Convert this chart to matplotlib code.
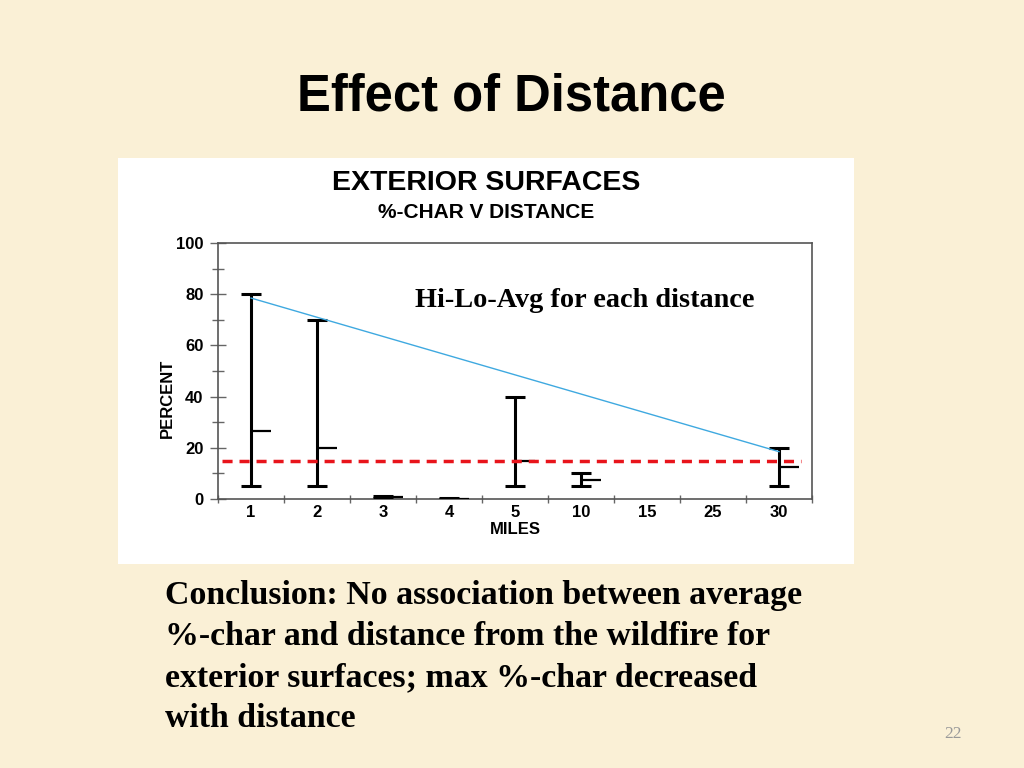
import matplotlib.pyplot as plt
from matplotlib.patches import Rectangle

# ----------------------------------
# data
# ----------------------------------
miles = ["1", "2", "3", "4", "5", "10", "15", "25", "30"]
hi_vals = [80, 70, 1.0, 0.2, 40, 10, None, None, 20]
lo_vals = [5, 5, 0.3, 0.0, 5, 5, None, None, 5]
avg_vals = [26.5, 20, 0.6, 0.1, 15, 7.5, None, None, 12.5]

trend_x = [0, 8]
trend_y = [78.5, 18.5]
ref_level = 15

y_ticks = [0, 20, 40, 60, 80, 100]

# ----------------------------------
# figure / slide background
# ----------------------------------
fig = plt.figure(figsize=(10.24, 7.68), dpi=100)
fig.patch.set_facecolor("#FAF0D6")

W, H = 1024, 768

fig.patches.append(
    Rectangle(
        (117.5 / W, 1 - 564 / H),
        (854 - 117.5) / W,
        (564 - 158) / H,
        transform=fig.transFigure,
        facecolor="white",
        edgecolor="none",
        zorder=-10,
    )
)

fig.text(
    511 / W, 1 - 97 / H,
    "Effect of Distance",
    ha="center", va="center",
    fontsize=36.5, fontweight="bold",
    family="Liberation Sans",
)

fig.text(
    486 / W, 1 - 183 / H,
    "EXTERIOR SURFACES",
    ha="center", va="center",
    fontsize=20.5, fontweight="bold",
    family="Liberation Sans",
)

fig.text(
    486 / W, 1 - 212 / H,
    "%-CHAR V DISTANCE",
    ha="center", va="center",
    fontsize=15, fontweight="bold",
    family="Liberation Sans",
)

# ----------------------------------
# chart
# ----------------------------------
ax = fig.add_axes([218 / W, 1 - 499 / H, (812 - 218) / W, (499 - 243) / H])
ax.set_facecolor("white")

xs = [i for i, h in enumerate(hi_vals) if h is not None]
his = [hi_vals[i] for i in xs]
los = [lo_vals[i] for i in xs]
avgs = [avg_vals[i] for i in xs]

ax.vlines(xs, los, his, color="black", lw=2.2, zorder=3)
ax.hlines(his, [x - 0.15 for x in xs], [x + 0.15 for x in xs],
          color="black", lw=2.2, zorder=3)
ax.hlines(los, [x - 0.15 for x in xs], [x + 0.15 for x in xs],
          color="black", lw=2.2, zorder=3)
ax.hlines(avgs, xs, [x + 0.3 for x in xs],
          color="black", lw=1.6, zorder=3)

ax.plot(trend_x, trend_y, color="#3FA9E0", lw=1.0, zorder=4)

ax.plot([-0.44, 8.34], [ref_level, ref_level],
        color="#E8141B", lw=2.5, dashes=(2.9, 2.0), zorder=5)

ax.set_xlim(-0.5, 8.5)
ax.set_ylim(0, 100)

ax.set_yticks(y_ticks)
ax.set_yticks([10, 30, 50, 70, 90], minor=True)
ax.set_yticklabels([str(v) for v in y_ticks],
                   fontsize=12, fontweight="bold", family="Liberation Sans")

ax.set_xticks([i - 0.5 for i in range(len(miles) + 1)])
ax.set_xticklabels([])
ax.set_xticks(range(len(miles)), minor=True)
ax.set_xticklabels(miles, minor=True,
                   fontsize=12, fontweight="bold", family="Liberation Sans")

ax.tick_params(axis="y", which="major", direction="inout", length=11,
               width=1, color="#666666", pad=5)
ax.tick_params(axis="y", which="minor", direction="inout", length=8,
               width=1, color="#666666")
ax.tick_params(axis="x", which="major", direction="inout", length=6,
               width=1, color="#666666")
ax.tick_params(axis="x", which="minor", length=0, pad=4)

for side in ["left", "right", "top", "bottom"]:
    ax.spines[side].set_color("#555555")
    ax.spines[side].set_linewidth(1.2)

ax.set_xlabel("MILES", fontsize=12, fontweight="bold",
              family="Liberation Sans")
ax.xaxis.set_label_coords((515 - 218) / 594, -(530 - 499) / 256)
ax.set_ylabel("PERCENT", fontsize=12, fontweight="bold",
              family="Liberation Sans")
ax.yaxis.set_label_coords((167 - 218) / 594, (499 - 398) / 256)
ax.xaxis.label.set_va("center")
ax.yaxis.label.set_va("center")

fig.text(
    415 / W, 1 - 301 / H,
    "Hi-Lo-Avg for each distance",
    ha="left", va="center",
    fontsize=20.3, fontweight="bold",
    family="Liberation Serif",
)

# ----------------------------------
# conclusion text
# ----------------------------------
fig.text(
    165 / W, 1 - 580 / H,
    "Conclusion: No association between average\n"
    "%-char and distance from the wildfire for\n"
    "exterior surfaces; max %-char decreased\n"
    "with distance",
    ha="left", va="top",
    fontsize=24.4, fontweight="bold",
    family="Liberation Serif",
    linespacing=1.42,
)

fig.text(
    953 / W, 1 - 734 / H,
    "22",
    ha="center", va="center",
    fontsize=12.5, color="#999999",
    family="Liberation Serif",
)

fig.savefig("out.png", dpi=100, facecolor=fig.get_facecolor())
